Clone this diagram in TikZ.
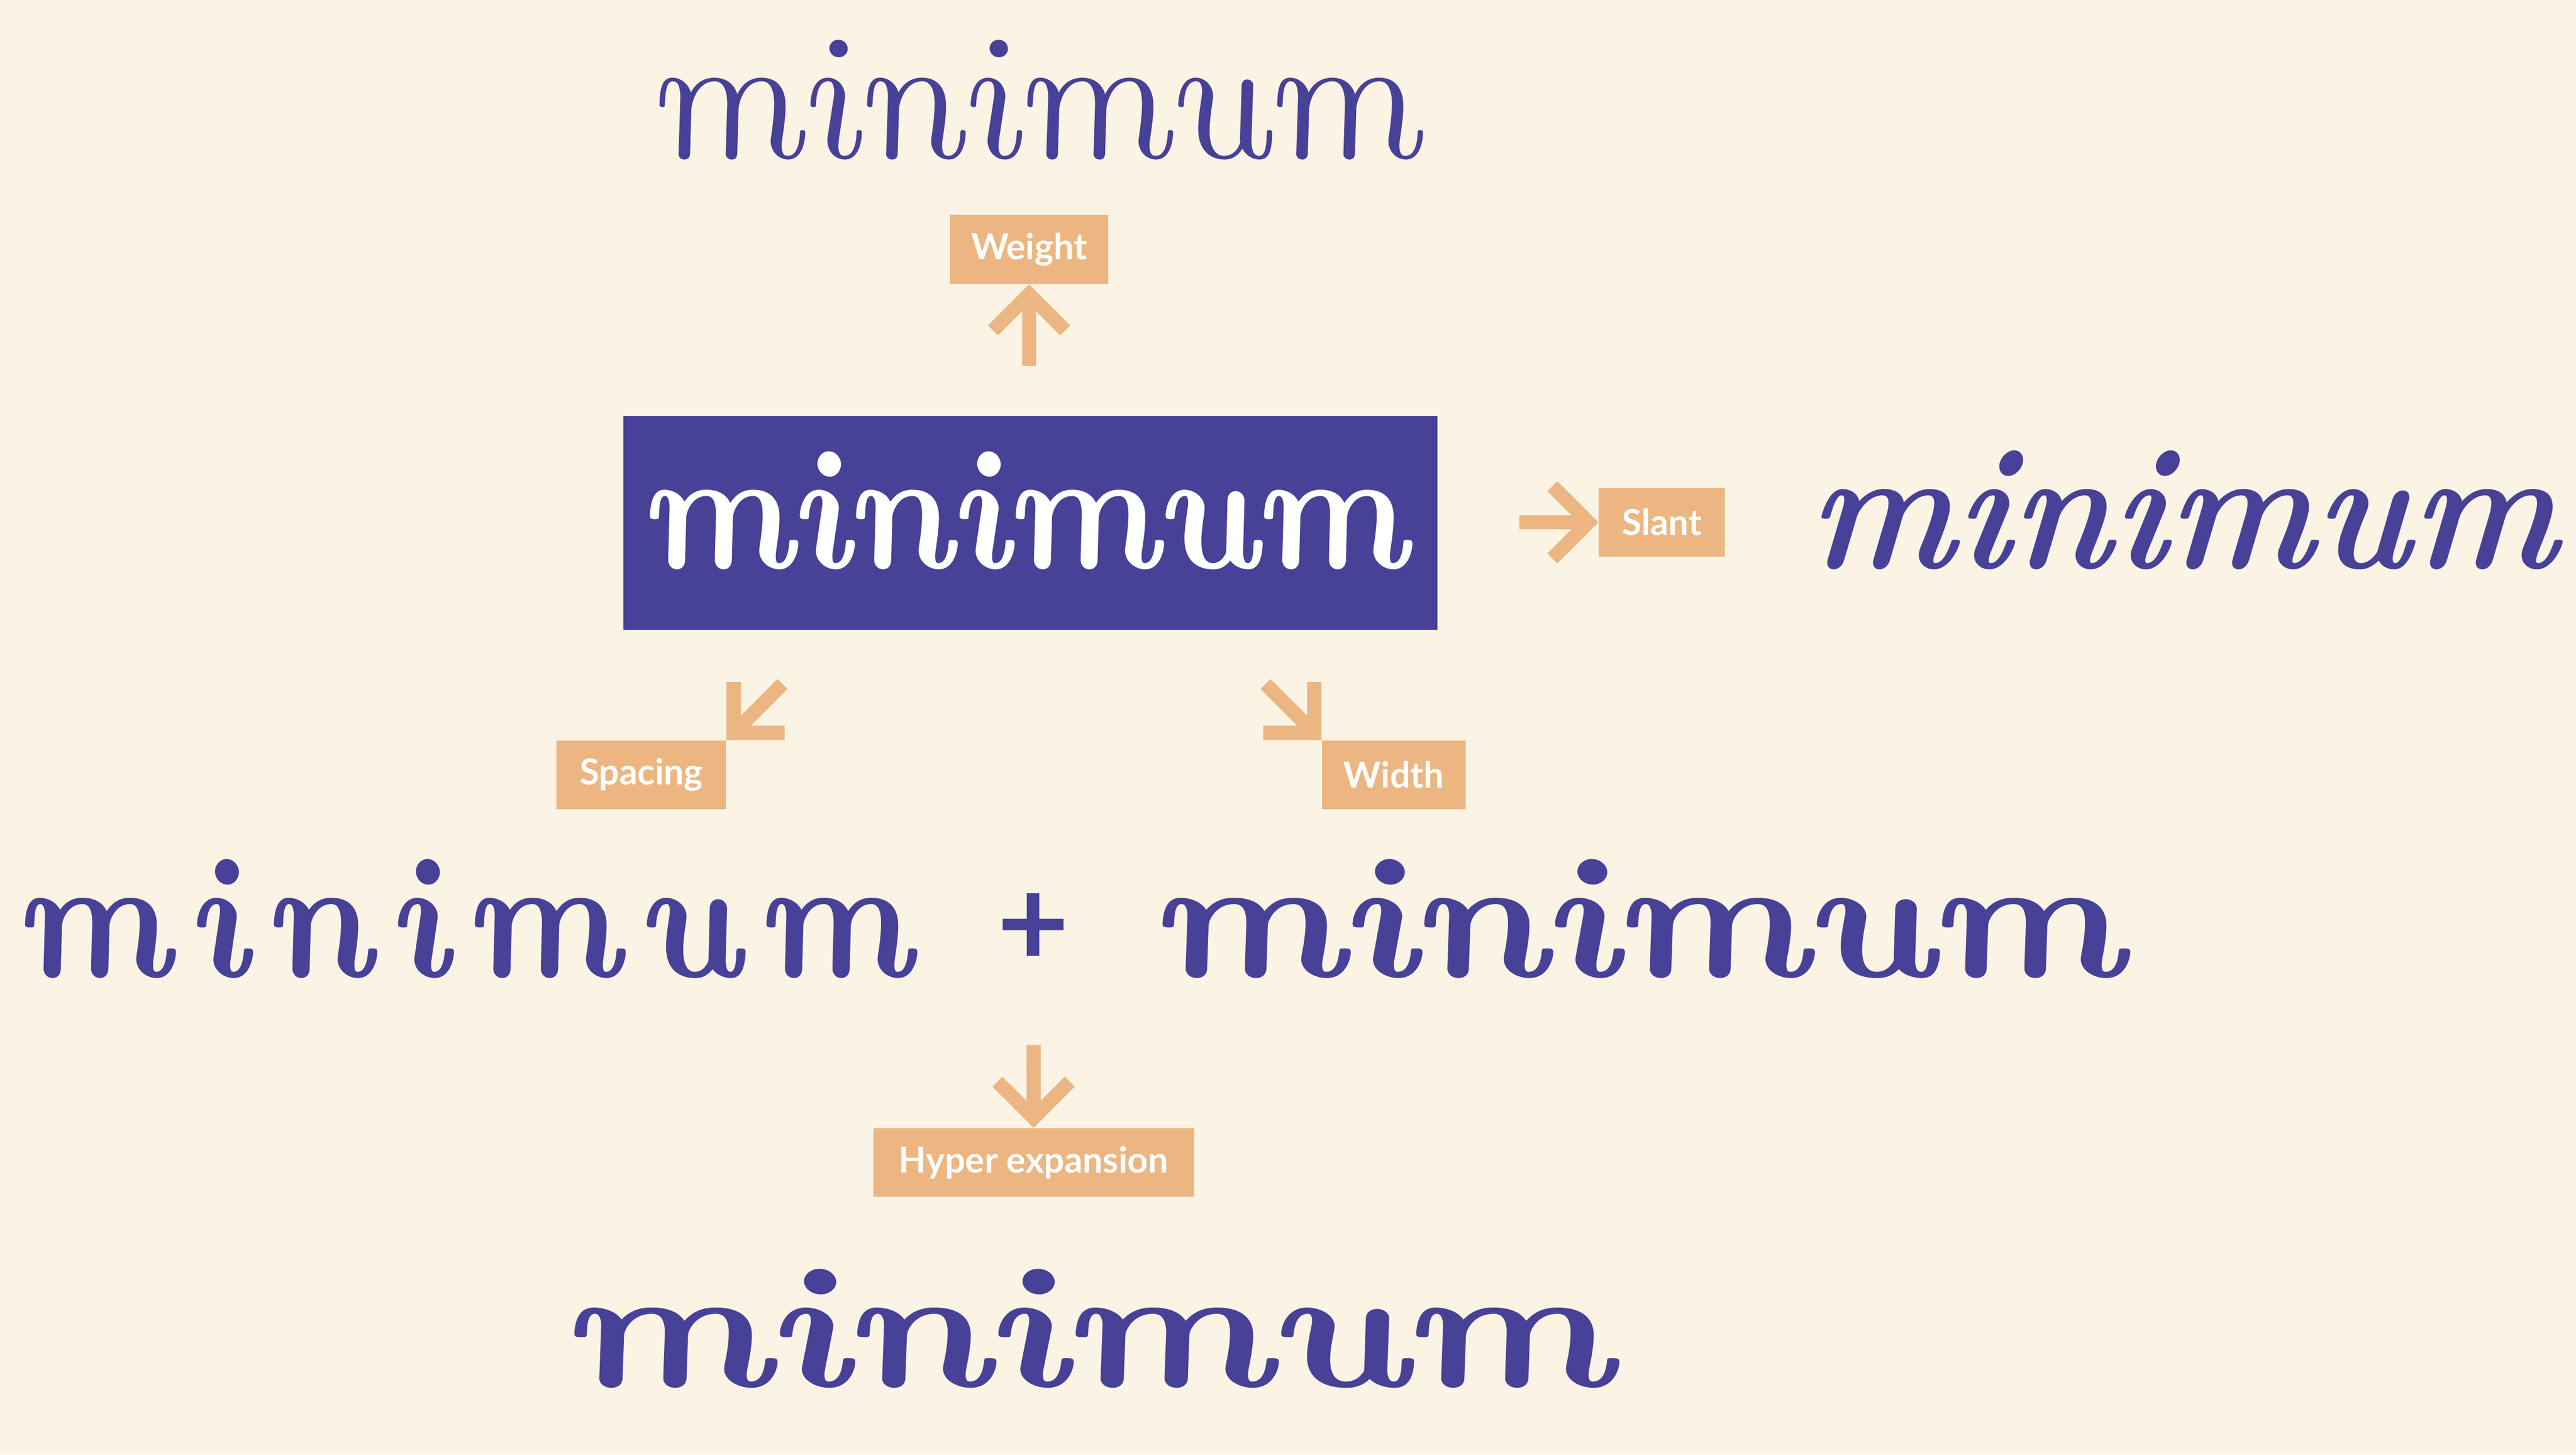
\documentclass[tikz,border=0pt]{standalone}
\usepackage{fontspec}
\usepackage{graphicx}
\usetikzlibrary{arrows.meta}

\newfontfamily\tagfont{Lato}
\newfontface\scriptthin{lmroman12-italic.otf}[FakeSlant=-0.22]
\newfontface\scriptbold{lmroman10-bolditalic.otf}[FakeSlant=-0.22]
\newfontface\scriptslant{lmroman10-bolditalic.otf}[FakeSlant=0.08]
\newfontface\scriptspaced{lmroman10-bolditalic.otf}[FakeSlant=-0.22, LetterSpace=12]

\definecolor{bgcream}{RGB}{251,243,228}
\definecolor{mainviolet}{RGB}{71,65,151}
\definecolor{tagorange}{RGB}{236,182,130}

\newcommand{\mword}[3]{\resizebox{#1}{#2}{#3minimum}}

\begin{document}
\begin{tikzpicture}[
    mainbox/.style={rectangle, fill=mainviolet, text=white, minimum width=12.38cm,
                    minimum height=3.255cm, inner sep=0pt, text height=1.775cm, text depth=4mm},
    tag/.style={rectangle, fill=tagorange, text=white, minimum height=1.045cm, inner sep=0pt,
                font=\tagfont\bfseries\fontsize{15.5}{18}\selectfont},
    word/.style={anchor=base west, inner sep=0pt, text=mainviolet},
    arrow/.style={-{Straight Barb[length=5.5mm, width=11mm, sharp]}, line width=2.15mm, tagorange}
]
    % Canvas
    \fill[bgcream] (0, 0) rectangle (39.2, 22.125);
    \useasboundingbox (0, 0) rectangle (39.2, 22.125);

    % Centre
    \node[mainbox] (main) at (15.68, 14.17) {\mword{11.625cm}{1.775cm}{\scriptbold}};

    % Weight
    \node[tag, minimum width=2.405cm] (weight) at (15.66, 18.33) {Weight};
    \node[word] (weightword) at (9.975, 19.72) {\mword{11.7cm}{1.795cm}{\scriptthin}};
    \draw[arrow, shorten <=7.55mm] (main.north -| weight.south) -- (weight.south);

    % Slant
    \node[tag, minimum width=1.92cm] (slant) at (25.29, 14.18) {Slant};
    \node[word] (slantword) at (27.475, 13.485) {\mword{11.4cm}{1.79cm}{\scriptslant}};
    \draw[arrow, shorten <=12.4mm] (main.east |- slant.west) -- (slant.west);

    % Spacing
    \node[tag, minimum width=2.58cm] (spacing) at (9.76, 10.34) {Spacing};
    \node[word] (spacingword) at (0.35, 7.265) {\mword{13.6cm}{1.79cm}{\scriptspaced}};
    \coordinate (spacingfrom) at ([shift={(0.85, 0.85)}]spacing.north east);
    \draw[arrow] (spacingfrom) -- (spacing.north east);

    % Width
    \node[tag, minimum width=2.19cm] (width) at (21.21, 10.34) {Width};
    \node[word] (widthword) at (17.65, 7.265) {\mword{14.75cm}{1.79cm}{\scriptbold}};
    \coordinate (widthfrom) at ([shift={(-0.85, 0.85)}]width.north west);
    \draw[arrow] (widthfrom) -- (width.north west);

    % Plus
    \node[text=mainviolet, inner sep=0pt, font=\tagfont\bfseries\fontsize{54}{54}\selectfont]
        (plus) at (15.725, 7.975) {+};

    % Hyper expansion
    \node[tag, minimum width=4.89cm] (hyper) at (15.73, 4.44) {Hyper expansion};
    \node[word] (hyperword) at (8.7, 1.035) {\mword{15.925cm}{1.79cm}{\scriptbold}};
    \draw[arrow, shorten <=17.45mm] (plus.center) -- (hyper.north);

\end{tikzpicture}
\end{document}
